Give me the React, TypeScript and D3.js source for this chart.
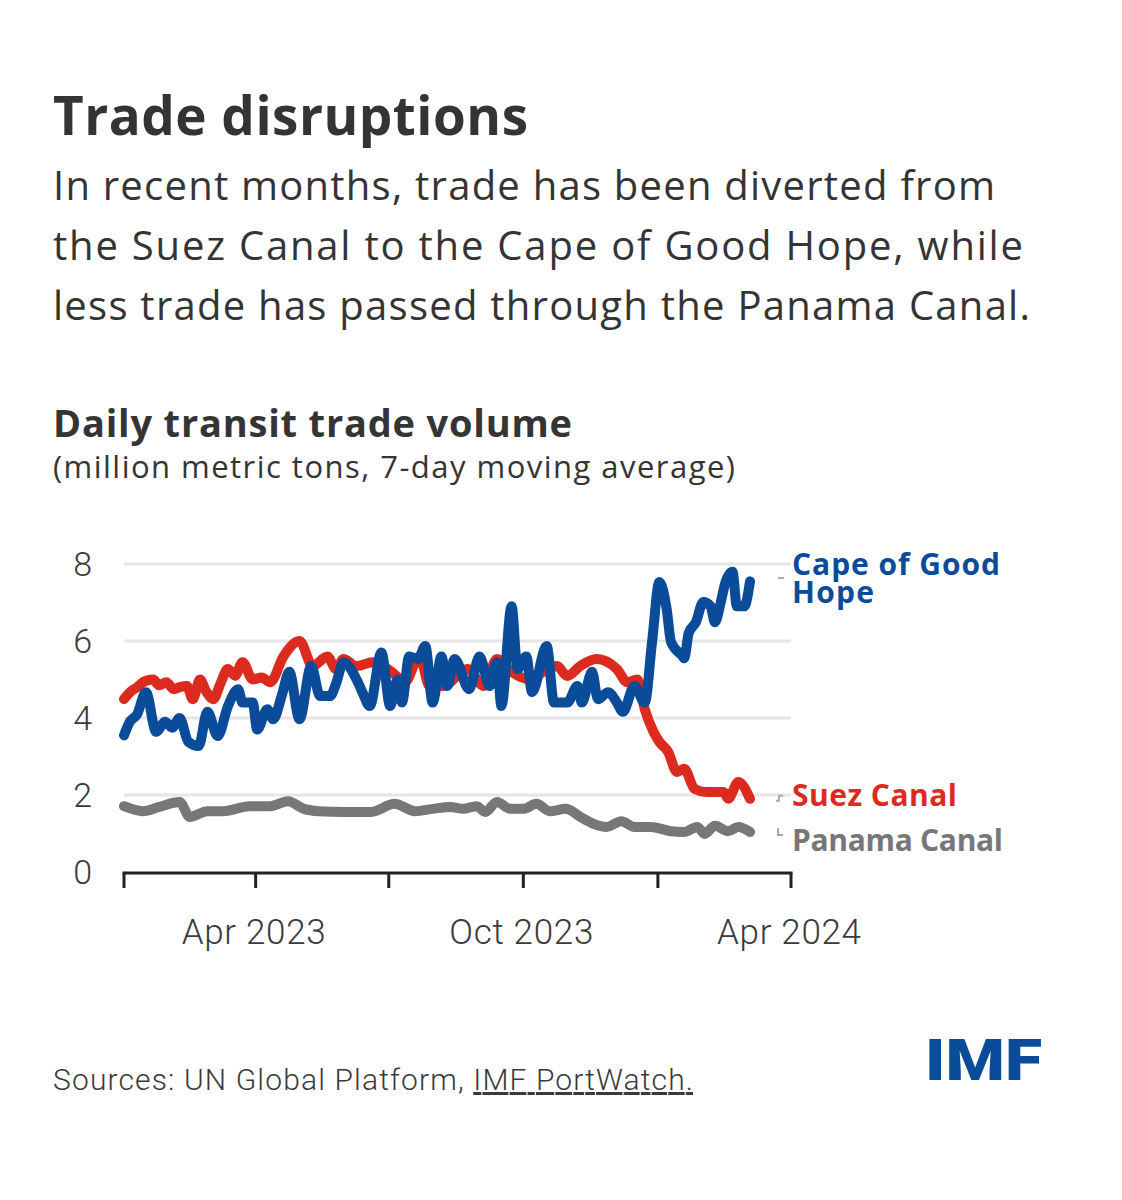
import React from "react";
import * as d3 from "d3";

// ---- Data (million metric tons, 7-day moving average) ----
const capeOfGoodHope: [string, number][] = [
  ["2023-01-01", 3.55], ["2023-01-05", 3.9], ["2023-01-10", 4.1], ["2023-01-16", 4.67],
  ["2023-01-23", 3.64], ["2023-01-29", 3.9], ["2023-02-03", 3.75], ["2023-02-08", 4.0],
  ["2023-02-14", 3.38], ["2023-02-21", 3.27], ["2023-02-27", 4.16], ["2023-03-06", 3.53],
  ["2023-03-13", 4.3], ["2023-03-20", 4.75], ["2023-03-23", 4.4], ["2023-03-30", 4.4],
  ["2023-04-02", 3.7], ["2023-04-09", 4.23], ["2023-04-13", 3.97], ["2023-04-19", 4.6],
  ["2023-04-24", 5.2], ["2023-05-01", 3.97], ["2023-05-09", 5.35], ["2023-05-15", 4.57],
  ["2023-05-22", 4.57], ["2023-05-26", 4.9], ["2023-05-31", 5.45], ["2023-06-09", 5.0],
  ["2023-06-13", 4.67], ["2023-06-18", 4.31], ["2023-06-26", 5.7], ["2023-07-02", 4.31],
  ["2023-07-07", 5.0], ["2023-07-10", 4.4], ["2023-07-15", 5.6], ["2023-07-21", 5.53],
  ["2023-07-26", 5.87], ["2023-07-31", 4.4], ["2023-08-06", 5.6], ["2023-08-10", 4.83],
  ["2023-08-15", 5.53], ["2023-08-25", 4.75], ["2023-09-01", 5.6], ["2023-09-08", 4.83],
  ["2023-09-13", 5.45], ["2023-09-16", 4.31], ["2023-09-23", 6.9], ["2023-09-27", 5.27],
  ["2023-10-03", 5.6], ["2023-10-07", 4.67], ["2023-10-17", 5.87], ["2023-10-22", 4.4],
  ["2023-10-31", 4.4], ["2023-11-07", 4.83], ["2023-11-10", 4.4], ["2023-11-17", 5.2],
  ["2023-11-21", 4.49], ["2023-11-28", 4.67], ["2023-12-04", 4.4], ["2023-12-08", 4.16],
  ["2023-12-16", 4.83], ["2023-12-23", 4.4], ["2023-12-28", 5.97], ["2024-01-02", 7.53],
  ["2024-01-07", 6.83], ["2024-01-10", 5.97], ["2024-01-18", 5.6], ["2024-01-19", 5.55],
  ["2024-01-22", 6.2], ["2024-01-27", 6.49], ["2024-02-01", 7.01], ["2024-02-06", 6.9],
  ["2024-02-09", 6.49], ["2024-02-13", 7.01], ["2024-02-16", 7.5], ["2024-02-21", 7.8],
  ["2024-02-24", 6.9], ["2024-02-29", 6.9], ["2024-03-04", 7.55],
];

const suezCanal: [string, number][] = [
  ["2023-01-01", 4.49], ["2023-01-06", 4.7], ["2023-01-10", 4.8], ["2023-01-15", 4.95],
  ["2023-01-21", 5.0], ["2023-01-25", 4.85], ["2023-01-30", 4.93], ["2023-02-04", 4.75],
  ["2023-02-08", 4.8], ["2023-02-13", 4.83], ["2023-02-17", 4.49], ["2023-02-22", 5.0],
  ["2023-02-26", 4.7], ["2023-03-03", 4.49], ["2023-03-08", 4.9], ["2023-03-13", 5.27],
  ["2023-03-18", 5.1], ["2023-03-23", 5.45], ["2023-03-30", 5.0], ["2023-04-05", 5.05],
  ["2023-04-11", 4.93], ["2023-04-20", 5.6], ["2023-05-01", 6.0], ["2023-05-10", 5.35],
  ["2023-05-20", 5.6], ["2023-05-26", 5.27], ["2023-05-31", 5.53], ["2023-06-09", 5.35],
  ["2023-06-20", 5.45], ["2023-07-03", 5.2], ["2023-07-12", 4.93], ["2023-07-22", 5.6],
  ["2023-07-29", 4.83], ["2023-08-07", 4.83], ["2023-08-24", 5.27], ["2023-09-04", 4.83],
  ["2023-09-13", 5.53], ["2023-09-23", 5.2], ["2023-10-06", 5.0], ["2023-10-17", 5.27],
  ["2023-10-24", 5.35], ["2023-10-31", 5.09], ["2023-11-09", 5.35], ["2023-11-20", 5.53],
  ["2023-12-04", 5.27], ["2023-12-11", 4.93], ["2023-12-18", 5.0], ["2023-12-23", 4.23],
  ["2023-12-29", 3.64], ["2024-01-02", 3.38], ["2024-01-08", 3.12], ["2024-01-14", 2.6],
  ["2024-01-19", 2.68], ["2024-01-26", 2.16], ["2024-02-03", 2.08], ["2024-02-10", 2.08],
  ["2024-02-15", 2.08], ["2024-02-18", 1.9], ["2024-02-25", 2.34], ["2024-03-04", 1.9],
];

const panamaCanal: [string, number][] = [
  ["2023-01-01", 1.71], ["2023-01-14", 1.58], ["2023-01-25", 1.69], ["2023-02-08", 1.82],
  ["2023-02-15", 1.43], ["2023-02-27", 1.58], ["2023-03-10", 1.58], ["2023-03-28", 1.71],
  ["2023-04-11", 1.71], ["2023-04-23", 1.84], ["2023-05-04", 1.64], ["2023-05-14", 1.58],
  ["2023-06-01", 1.56], ["2023-06-19", 1.56], ["2023-07-05", 1.77], ["2023-07-19", 1.58],
  ["2023-07-31", 1.64], ["2023-08-12", 1.69], ["2023-08-21", 1.64], ["2023-08-30", 1.71],
  ["2023-09-05", 1.56], ["2023-09-13", 1.82], ["2023-09-22", 1.64], ["2023-10-01", 1.64],
  ["2023-10-10", 1.77], ["2023-10-19", 1.58], ["2023-10-30", 1.64], ["2023-11-09", 1.43],
  ["2023-11-18", 1.25], ["2023-11-27", 1.17], ["2023-12-07", 1.32], ["2023-12-16", 1.17],
  ["2023-12-27", 1.17], ["2024-01-10", 1.06], ["2024-01-19", 1.04], ["2024-01-28", 1.17],
  ["2024-02-02", 0.99], ["2024-02-09", 1.2], ["2024-02-18", 1.06], ["2024-02-25", 1.17],
  ["2024-03-04", 1.04],
];

const yTicks = [0, 2, 4, 6, 8];
const xTickDates = ["2023-01-01", "2023-04-01", "2023-07-01", "2023-10-01", "2024-01-01", "2024-04-01"];
const xTickLabels: [string, string][] = [["2023-04-01", "Apr 2023"], ["2023-10-01", "Oct 2023"], ["2024-04-01", "Apr 2024"]];

const title = "Trade disruptions";
const subtitleLines = [
  "In recent months, trade has been diverted from",
  "the Suez Canal to the Cape of Good Hope, while",
  "less trade has passed through the Panama Canal.",
];
const subtitleWidths = [942, 970, 977];
const chartTitle = "Daily transit trade volume";
const chartUnit = "(million metric tons, 7-day moving average)";

const BLUE = "#0b4c9a";
const RED = "#dd2a1f";
const GRAY = "#777777";
const TEXT = "#343434";

const parse = d3.timeParse("%Y-%m-%d");

export default function App() {
  const x = d3.scaleTime()
    .domain([parse("2023-01-01")!, parse("2024-04-01")!])
    .range([124, 791]);
  const y = d3.scaleLinear().domain([0, 8]).range([872, 564]);

  const line = d3.line<[string, number]>()
    .x((d) => x(parse(d[0])!))
    .y((d) => y(d[1]))
    .curve(d3.curveMonotoneX);

  const series = [
    { data: panamaCanal, color: GRAY },
    { data: suezCanal, color: RED },
    { data: capeOfGoodHope, color: BLUE },
  ];

  const sansBody = "'Open Sans', Lato, sans-serif";
  const sansLight = "Roboto, Lato, sans-serif";

  const lastSuez = suezCanal[suezCanal.length - 1];
  const lastPanama = panamaCanal[panamaCanal.length - 1];

  return (
    <svg width={1122} height={1200} style={{ position: "absolute", left: 0, top: 0, background: "#fff" }}>
      <rect width={1122} height={1200} fill="#fff" />
      <text x={53} y={135} fontFamily={sansBody} fontWeight={700} fontSize={53} fill={TEXT} textLength={475} lengthAdjust="spacing">{title}</text>
      {subtitleLines.map((s, i) => (
        <text key={i} x={53} y={200 + i * 60} fontFamily={sansBody} fontSize={40} fill={TEXT} textLength={subtitleWidths[i]} lengthAdjust="spacing">{s}</text>
      ))}
      <text x={53} y={437} fontFamily={sansBody} fontWeight={700} fontSize={38} fill={TEXT} textLength={519} lengthAdjust="spacing">{chartTitle}</text>
      <text x={53} y={478} fontFamily={sansBody} fontSize={31} fill={TEXT} textLength={682} lengthAdjust="spacing">{chartUnit}</text>

      {/* gridlines */}
      {yTicks.filter((t) => t > 0).map((t) => (
        <line key={t} x1={124} x2={791} y1={y(t)} y2={y(t)} stroke="#e6e6e6" strokeWidth={3} />
      ))}
      {yTicks.map((t) => (
        <text key={t} x={92} y={y(t)} dy="0.36em" textAnchor="end" fontFamily={sansLight} fontWeight={300} fontSize={34} fill="#3a3a3a">{t}</text>
      ))}

      {/* lines */}
      {series.map((s, i) => (
        <path key={i} d={line(s.data) || ""} fill="none" stroke={s.color} strokeWidth={10} strokeLinejoin="round" strokeLinecap="round" />
      ))}

      {/* x axis */}
      <line x1={x(parse(xTickDates[0])!) - 1.5} x2={x(parse(xTickDates[xTickDates.length - 1])!) + 1.5} y1={873} y2={873} stroke="#222" strokeWidth={3} />
      {xTickDates.map((d) => (
        <line key={d} x1={x(parse(d)!)} x2={x(parse(d)!)} y1={873} y2={888} stroke="#222" strokeWidth={3} />
      ))}
      {xTickLabels.map(([d, l]) => (
        <text key={d} x={x(parse(d)!) - 2} y={944} textAnchor="middle" fontFamily={sansLight} fontWeight={300} fontSize={35} fill="#3a3a3a" textLength={144} lengthAdjust="spacing">{l}</text>
      ))}

      {/* series labels with leaders */}
      <line x1={778} x2={784} y1={578} y2={578} stroke="#aaa" strokeWidth={2} />
      <text x={792} y={575} fontFamily={sansBody} fontWeight={700} fontSize={30} fill={BLUE} textLength={208} lengthAdjust="spacing">Cape of Good</text>
      <text x={792} y={603} fontFamily={sansBody} fontWeight={700} fontSize={30} fill={BLUE} textLength={82} lengthAdjust="spacing">Hope</text>

      <path d={`M776,${y(lastSuez[1]) + 2} H779 V${y(lastSuez[1]) - 3} H783`} fill="none" stroke="#aaa" strokeWidth={2} />
      <text x={792} y={806} fontFamily={sansBody} fontWeight={700} fontSize={30} fill={RED} textLength={165} lengthAdjust="spacing">Suez Canal</text>

      <path d={`M778,${y(lastPanama[1]) - 4} V${y(lastPanama[1]) + 3} H783`} fill="none" stroke="#aaa" strokeWidth={2} />
      <text x={792} y={851} fontFamily={sansBody} fontWeight={700} fontSize={30} fill={GRAY} textLength={211} lengthAdjust="spacing">Panama Canal</text>

      {/* footer */}
      <text x={53} y={1090} fontFamily={sansLight} fontWeight={300} fontSize={30} fill="#3a3a3a" textLength={640} lengthAdjust="spacing">
        Sources: UN Global Platform, <tspan textDecoration="underline">IMF PortWatch.</tspan>
      </text>
      <text x={925} y={1080} fontFamily="Roboto, sans-serif" fontWeight={900} fontSize={58} fill={BLUE} textLength={117} lengthAdjust="spacingAndGlyphs">IMF</text>
    </svg>
  );
}
